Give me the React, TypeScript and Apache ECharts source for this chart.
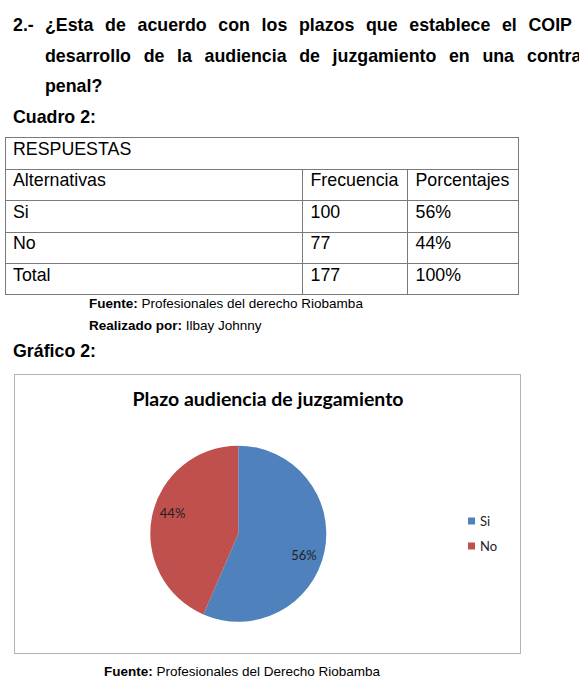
import React, { useEffect, useRef } from "react";
import * as echarts from "echarts";

// ---- data ----
const alternatives = ["Si", "No"];
const frequencies = [100, 77];
const percentages = ["56%", "44%"];
const totalFrequency = 177;
const totalPercentage = "100%";
const sliceColors = ["#4F81BD", "#C0504D"];
const chartTitle = "Plazo audiencia de juzgamiento";

const questionLine1 = ["¿Esta", "de", "acuerdo", "con", "los", "plazos", "que", "establece", "el", "COIP"];
const questionLine2 = ["desarrollo", "de", "la", "audiencia", "de", "juzgamiento", "en", "una"];

const DOC_FONT = "'Liberation Sans', Arial, sans-serif";
const CHART_FONT = "Lato, 'Open Sans', sans-serif";

const abs = (left: number, top: number, extra: React.CSSProperties = {}): React.CSSProperties => ({
  position: "absolute",
  left,
  top,
  whiteSpace: "nowrap",
  ...extra,
});

function PieChart() {
  const ref = useRef<HTMLDivElement>(null);
  useEffect(() => {
    if (!ref.current) return;
    const chart = echarts.init(ref.current, undefined, { renderer: "svg" });
    const pieData = alternatives.map((name, i) => ({
      name,
      value: frequencies[i],
      itemStyle: { color: sliceColors[i] },
    }));
    const center = [223.3, 158.7];
    chart.setOption({
      animation: false,
      title: {
        text: chartTitle,
        left: 253,
        top: 11,
        textAlign: "center",
        padding: 0,
        textStyle: {
          fontFamily: CHART_FONT,
          fontWeight: "bold",
          fontSize: 19.5,
          lineHeight: 24,
          color: "#000000",
        },
      },
      legend: {
        orient: "vertical",
        left: 453,
        top: 139,
        padding: 0,
        itemWidth: 7,
        itemHeight: 7,
        itemGap: 11,
        icon: "rect",
        selectedMode: false,
        data: alternatives,
        textStyle: {
          fontFamily: CHART_FONT,
          fontSize: 13,
          lineHeight: 14,
          color: "#222222",
          padding: [0, 0, 0, 0],
        },
      },
      series: [
        {
          type: "pie",
          center,
          radius: [0, 88],
          startAngle: 90,
          clockwise: true,
          silent: true,
          label: { show: false },
          labelLine: { show: false },
          emphasis: { disabled: true },
          data: pieData,
        },
        {
          type: "pie",
          center,
          radius: [44, 88],
          startAngle: 84,
          clockwise: true,
          silent: true,
          percentPrecision: 0,
          legendHoverLink: false,
          itemStyle: { color: "rgba(0,0,0,0)", borderWidth: 0 },
          label: {
            show: true,
            position: "inside",
            formatter: "{d}%",
            fontFamily: CHART_FONT,
            fontSize: 13,
            color: "#1f1f1f",
          },
          labelLine: { show: false },
          emphasis: { disabled: true },
          data: alternatives.map((name, i) => ({
            name,
            value: frequencies[i],
            itemStyle: { color: "rgba(0,0,0,0)" },
          })),
        },
      ],
    });
    return () => chart.dispose();
  }, []);
  return <div ref={ref} style={{ position: "absolute", left: 0, top: 0, width: 505, height: 278 }} />;
}

export default function App() {
  useEffect(() => {
    document.body.style.margin = "0";
  }, []);

  const big: React.CSSProperties = { fontSize: 17.8, lineHeight: "20px", fontFamily: DOC_FONT, color: "#000" };
  const bold: React.CSSProperties = { ...big, fontWeight: "bold" };
  const small: React.CSSProperties = { fontSize: 13.5, lineHeight: "16px", fontFamily: DOC_FONT, color: "#000" };

  // table geometry
  const tLeft = 4.5;
  const tRight = 518.5;
  const rowTops = [137, 168.6, 200.2, 231.8, 263.4];
  const tBottom = 295.2;
  const colX = [302, 407];
  const lineColor = "#7a7a7a";

  const tableRows: string[][] = [
    ["Alternativas", "Frecuencia", "Porcentajes"],
    ...alternatives.map((a, i) => [a, String(frequencies[i]), percentages[i]]),
    ["Total", String(totalFrequency), totalPercentage],
  ];
  const cellX = [tLeft + 8.5, colX[0] + 8.5, colX[1] + 8.5];

  return (
    <div
      style={{
        position: "relative",
        width: 579,
        height: 684,
        overflow: "hidden",
        background: "#ffffff",
        fontFamily: DOC_FONT,
      }}
    >
      {/* question */}
      <div style={abs(13, 14.5, bold)}>2.-</div>
      <div style={abs(45, 14.5, { ...bold, width: 527, display: "flex", justifyContent: "space-between" })}>
        {questionLine1.map((w, i) => (
          <span key={i}>{w}</span>
        ))}
      </div>
      <div style={abs(45, 45.5, { ...bold, width: 469, display: "flex", justifyContent: "space-between" })}>
        {questionLine2.map((w, i) => (
          <span key={i}>{w}</span>
        ))}
      </div>
      <div style={abs(527, 45.5, bold)}>contravención</div>
      <div style={abs(45, 75.5, bold)}>penal?</div>
      <div style={abs(13, 107, bold)}>Cuadro 2:</div>

      {/* table */}
      <div
        style={abs(tLeft, rowTops[0], {
          width: tRight - tLeft,
          height: tBottom - rowTops[0],
          border: `1px solid ${lineColor}`,
          boxSizing: "border-box",
        })}
      />
      {rowTops.slice(1).map((y, i) => (
        <div key={"h" + i} style={abs(tLeft, y, { width: tRight - tLeft, height: 1, background: lineColor })} />
      ))}
      {colX.map((x, i) => (
        <div
          key={"v" + i}
          style={abs(x, rowTops[1], { width: 1, height: tBottom - rowTops[1], background: lineColor })}
        />
      ))}
      <div style={abs(cellX[0], rowTops[0] + 1.5, big)}>RESPUESTAS</div>
      {tableRows.map((row, r) =>
        row.map((cell, c) => (
          <div key={r + "-" + c} style={abs(cellX[c], rowTops[r + 1] + 1.5, big)}>
            {cell}
          </div>
        ))
      )}

      <div style={abs(89, 295.6, small)}>
        <b>Fuente:</b> Profesionales del derecho Riobamba
      </div>
      <div style={abs(89, 317.8, small)}>
        <b>Realizado por:</b> Ilbay Johnny
      </div>
      <div style={abs(13, 340.5, bold)}>Gráfico 2:</div>

      {/* chart box */}
      <div
        style={abs(14, 374, {
          width: 507,
          height: 280,
          border: "1px solid #b3b3b3",
          boxSizing: "border-box",
          background: "#ffffff",
        })}
      >
        <PieChart />
      </div>

      <div style={abs(104, 664, small)}>
        <b>Fuente:</b> Profesionales del Derecho Riobamba
      </div>
    </div>
  );
}
